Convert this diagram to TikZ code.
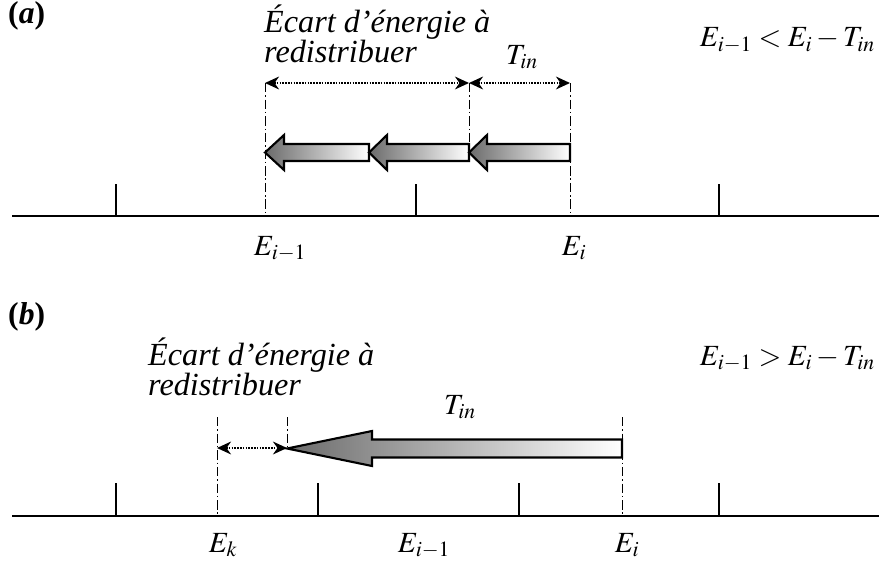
\documentclass[tikz,border=0pt]{standalone}
\usepackage{mathptmx}
\usepackage[no-math]{fontspec}
\setmainfont{Liberation Serif}
\usetikzlibrary{arrows.meta,positioning}

\tikzset{
  axis/.style={line width=1.8pt},
  tick/.style={line width=1.3pt},
  guide/.style={line width=0.8pt, dash pattern=on 8pt off 2.5pt on 1.2pt off 2.5pt},
  gap/.style={{Stealth[length=12pt,width=11pt]}-{Stealth[length=12pt,width=11pt]}, densely dotted, line width=1.4pt},
  blockarrow/.style={left color=black!58, right color=white, draw=black, line width=1.8pt},
  lbl/.style={font=\fontsize{27.5}{30}\selectfont\itshape, inner sep=0pt},
  eq/.style={font=\fontsize{25}{28}\selectfont, inner sep=0pt},
  panel/.style={font=\fontsize{27}{30}\selectfont\bfseries, inner sep=0pt},
}

\begin{document}
\begin{tikzpicture}[x=0.03cm, y=-0.03cm]
        \useasboundingbox (0,0) rectangle (879,563);

        % Panel (a)
        \node[panel, anchor=base west] (panA) at (8,24) {(\textit{a})};
        \node[eq, anchor=base east] (condA) at (875,47) {$E_{i-1} < E_i - T_{in}$};

        \draw[axis] (12,216) -- (879,216);
        \foreach \x in {116,416,719} {
            \draw[tick] (\x,184) -- (\x,216);
        }

        \coordinate (aEim) at (265,216);
        \coordinate (aEi) at (570,216);
        \coordinate (aMid) at (469,150);
        \coordinate (aTopL) at (265,83);
        \coordinate (aTopM) at (469,83);
        \coordinate (aTopR) at (570,83);
        \draw[guide] (aTopL) -- (aEim);
        \draw[guide] (aTopM) -- (aMid);
        \draw[guide] (aTopR) -- (aEi);
        \draw[gap] (aTopL) -- (aTopM);
        \draw[gap] (aTopM) -- (aTopR);

        % Block arrows
        \shade[blockarrow] (265,152.5) -- (284,135) -- (284,144) -- (369,144)
            -- (369,161) -- (284,161) -- (284,170) -- cycle;
        \shade[blockarrow] (369,152.5) -- (387,135) -- (387,144) -- (469,144)
            -- (469,161) -- (387,161) -- (387,170) -- cycle;
        \shade[blockarrow] (469,152.5) -- (487,135) -- (487,144) -- (570,144)
            -- (570,161) -- (487,161) -- (487,170) -- cycle;

        \node[lbl, anchor=base west] (gapA1) at (264,33) {Écart d’énergie à};
        \node[lbl, anchor=base west] (gapA2) at (264,63) {redistribuer};
        \node[eq, anchor=base] (tinA) at (522,64) {$T_{in}$};
        \node[eq, anchor=base] (labAEim) at (280,255) {$E_{i-1}$};
        \node[eq, anchor=base] (labAEi) at (574,255) {$E_i$};

        % Panel (b)
        \node[panel, anchor=base west] (panB) at (8,324) {(\textit{b})};
        \node[eq, anchor=base east] (condB) at (875,365) {$E_{i-1} > E_i - T_{in}$};

        \draw[axis] (12,516) -- (879,516);
        \foreach \x in {116,318,519,719} {
            \draw[tick] (\x,483) -- (\x,516);
        }

        \coordinate (bEk) at (217,516);
        \coordinate (bEi) at (622,516);
        \coordinate (bTip) at (287,448);
        \coordinate (bTopL) at (217,417);
        \coordinate (bTopM) at (287,417);
        \coordinate (bTopR) at (622,417);
        \coordinate (bGapL) at (217,448);
        \draw[guide] (bTopL) -- (bEk);
        \draw[guide] (bTopM) -- (bTip);
        \draw[guide] (bTopR) -- (bEi);
        \draw[gap] (bGapL) -- (bTip);

        \shade[blockarrow] (287,448.5) -- (372,431) -- (372,439.5) -- (622,439.5)
            -- (622,457.5) -- (372,457.5) -- (372,466) -- cycle;

        \node[lbl, anchor=base west] (gapB1) at (148,365) {Écart d’énergie à};
        \node[lbl, anchor=base west] (gapB2) at (148,395) {redistribuer};
        \node[eq, anchor=base] (tinB) at (460,414) {$T_{in}$};
        \node[eq, anchor=base] (labBEk) at (223,552) {$E_k$};
        \node[eq, anchor=base] (labBEim) at (424,552) {$E_{i-1}$};
        \node[eq, anchor=base] (labBEi) at (627,552) {$E_i$};
    \end{tikzpicture}
\end{document}
